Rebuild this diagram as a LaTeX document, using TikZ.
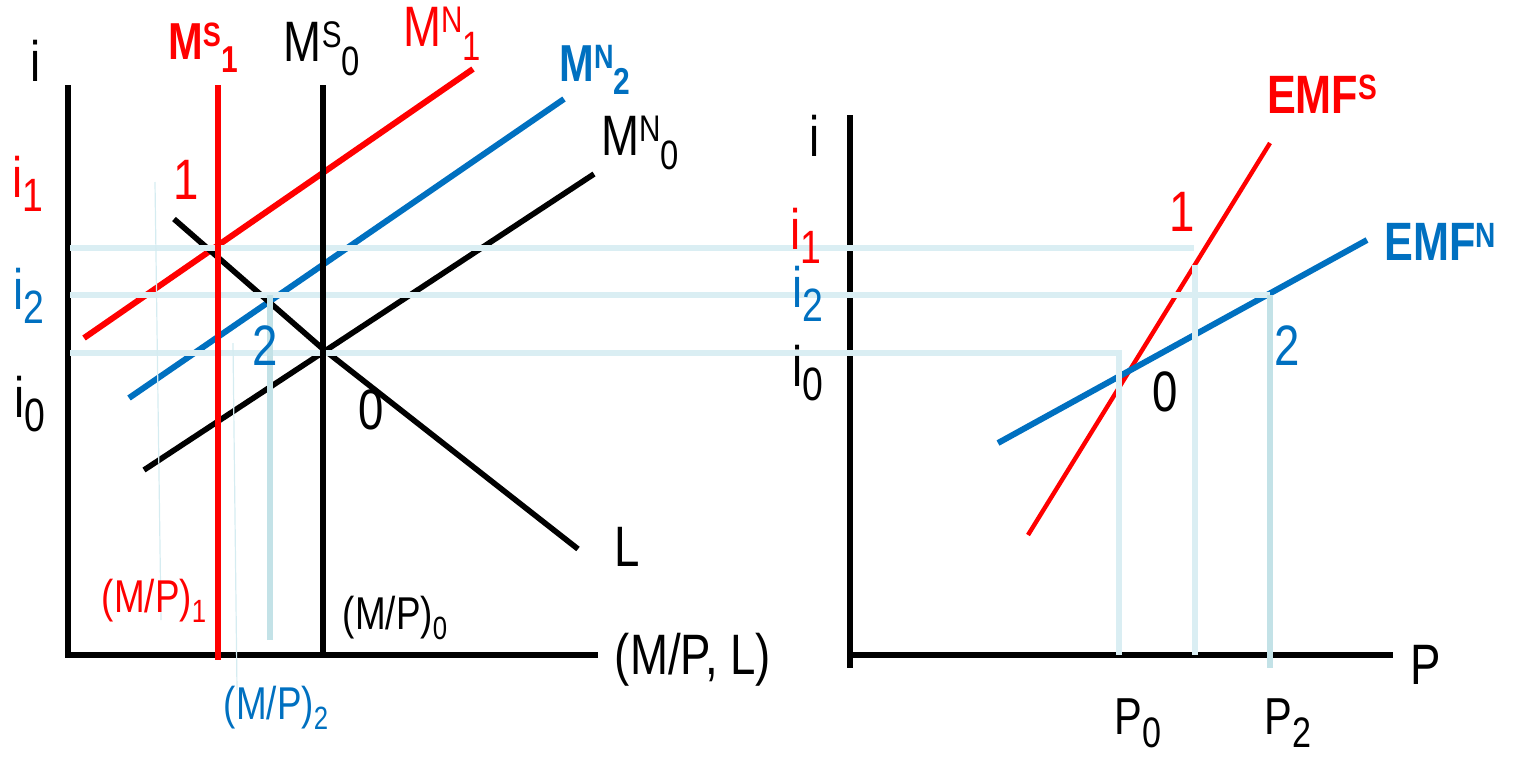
\documentclass[tikz,border=0pt]{standalone}
\usepackage{fontspec}
\setmainfont[FakeStretch=0.8]{Liberation Sans}
\definecolor{pred}{HTML}{FF0000}
\definecolor{pblue}{HTML}{0070C0}
\definecolor{guideA}{HTML}{DAEEF3}
\definecolor{guideB}{HTML}{C3E2E7}
\newcommand{\fs}[1]{\fontsize{#1}{#1}\selectfont}
\newcommand{\Sp}[1]{\raisebox{0.25em}{\scalebox{0.65}{#1}}}
\newcommand{\Sb}[1]{\raisebox{-0.25em}{\scalebox{0.72}{#1}}}
\newcommand{\Si}[1]{\raisebox{-0.25em}{\scalebox{0.82}{#1}}}
\newcommand{\Sm}[1]{\raisebox{-0.22em}{\scalebox{0.7}{#1}}}
\begin{document}
\begin{tikzpicture}[x=0.5pt,y=-0.5pt,
  axisln/.style={line width=3.3pt,black,line join=miter},
  redln/.style={line width=3pt,pred},
  blueln/.style={line width=3pt,pblue},
  blackln/.style={line width=2.8pt,black},
  guide/.style={line width=2.6pt,guideA},
  guidedark/.style={line width=2.6pt,guideB},
  guidethin/.style={line width=0.6pt,guideA!80!guideB},
  lab/.style={inner sep=0pt,font=\fs{28.5}},
  small/.style={inner sep=0pt,font=\fs{23}}]
\useasboundingbox (0,0) rectangle (1516,756);
% ---------- coordinates ----------
\coordinate (LyT) at (68,85);
\coordinate (LO) at (68,655);
\coordinate (LxR) at (598,655);
\coordinate (MSaT) at (218,85);  \coordinate (MSaB) at (218,660);
\coordinate (MSoT) at (323,85);  \coordinate (MSoB) at (323,657);
\coordinate (MNaS) at (84,338);  \coordinate (MNaE) at (473,69);
\coordinate (MNbS) at (129,398); \coordinate (MNbE) at (564,99);
\coordinate (MNoS) at (144,470); \coordinate (MNoE) at (594,174);
\coordinate (LS) at (174,219); \coordinate (LM) at (323,349); \coordinate (LE) at (578,549);
\coordinate (RyT) at (850,115);
\coordinate (RyB) at (850,668);
\coordinate (RxL) at (850,655);
\coordinate (RxR) at (1393,655);
\coordinate (ESS) at (1028,535); \coordinate (ESE) at (1270,143);
\coordinate (ENS) at (998,443);  \coordinate (ENE) at (1367,240);
% guides
\coordinate (gaL) at (70,248);  \coordinate (gaR) at (1194,248);
\coordinate (gaT) at (1195,265); \coordinate (gaB) at (1195,655);
\coordinate (gbL) at (70,295);  \coordinate (gbR) at (1270,295);
\coordinate (gbB) at (1270,668);
\coordinate (goL) at (70,353);  \coordinate (goR) at (1119,353);
\coordinate (goB) at (1119,655);
\coordinate (vbT) at (270,295); \coordinate (vbB) at (270,640);
\coordinate (taT) at (155,182); \coordinate (taB) at (161,620);
\coordinate (tbT) at (233,343); \coordinate (tbB) at (237,690);
% ---------- axes ----------
\draw[axisln] (LyT) -- (LO) -- (LxR);
\draw[axisln] (RyT) -- (RyB);
\draw[axisln] (RxL) -- (RxR);
% ---------- sloped curves ----------
\draw[redln] (MNaS) -- (MNaE);
\draw[blueln] (MNbS) -- (MNbE);
\draw[blackln] (MNoS) -- (MNoE);
\draw[blackln] (LS) -- (LM) -- (LE);
\draw[line width=2.2pt,pred] (ESS) -- (ESE);
\draw[blueln] (ENS) -- (ENE);
% ---------- guides ----------
\draw[guide] (gaL) -- (gaR);
\draw[guide] (gaT) -- (gaB);
\draw[guide] (gbL) -- (gbR);
\draw[guidedark] (gbR) -- (gbB);
\draw[guide] (goL) -- (goR) -- (goB);
\draw[guidedark] (vbT) -- (vbB);
\draw[guidethin] (taT) -- (taB);
\draw[guidethin] (tbT) -- (tbB);
% ---------- money supply verticals ----------
\draw[redln] (MSaT) -- (MSaB);
\draw[blackln] (MSoT) -- (MSoB);
% ---------- labels left ----------
\node[lab] (iLab) at (36,61) {i};
\node[lab,text=pred,font=\bfseries\fs{26}] (MSaLab) at (203,48) {M\Sp{S}\Sb{1}};
\node[lab] (MSoLab) at (322,49) {M\Sp{S}\Sb{0}};
\node[lab,text=pred] (MNaLab) at (442,34) {M\Sp{N}\Sb{1}};
\node[lab,text=pblue,font=\bfseries\fs{26}] (MNbLab) at (595,70) {M\Sp{N}\Sb{2}};
\node[lab] (MNoLab) at (640,143) {M\Sp{N}\Sb{0}};
\node[lab,text=pred] (oneL) at (186,180) {1};
\node[lab,text=pblue] (twoL) at (265,346) {2};
\node[lab] (zeroL) at (371,410) {0};
\node[lab] (LLab) at (627,547) {L};
\node[lab,text=pred] (iaL) at (28,184) {i\Si{1}};
\node[lab,text=pblue] (ibL) at (29,296) {i\Si{2}};
\node[lab] (ioL) at (30,404) {i\Si{0}};
\node[small,text=pred] (mpa) at (154,601) {(M/P)\Sm{1}};
\node[small] (mpo) at (395,618) {(M/P)\Sm{0}};
\node[small,text=pblue] (mpb) at (276,708) {(M/P)\Sm{2}};
\node[lab] (xLab) at (693,660) {(M/P, L)};
% ---------- labels right ----------
\node[lab] (iR) at (815,136) {i};
\node[lab,text=pred] (iaR) at (806,236) {i\Si{1}};
\node[lab,text=pblue] (ibR) at (808,294) {i\Si{2}};
\node[lab] (ioR) at (808,373) {i\Si{0}};
\node[lab,text=pred] (oneR) at (1182,212) {1};
\node[lab,text=pblue] (twoR) at (1287,346) {2};
\node[lab] (zeroR) at (1165,392) {0};
\node[lab] (PLab) at (1426,665) {P};
\node[lab,font=\fs{26}] (Po) at (1138,723) {P\Si{0}};
\node[lab,font=\fs{26}] (Pb) at (1288,723) {P\Si{2}};
\node[lab,text=pred,font=\bfseries\fs{27}] (EMFS) at (1322,94) {EMF\Sp{S}};
\node[lab,text=pblue,font=\bfseries\fs{27}] (EMFN) at (1440,242) {EMF\Sp{N}};
\end{tikzpicture}
\end{document}
